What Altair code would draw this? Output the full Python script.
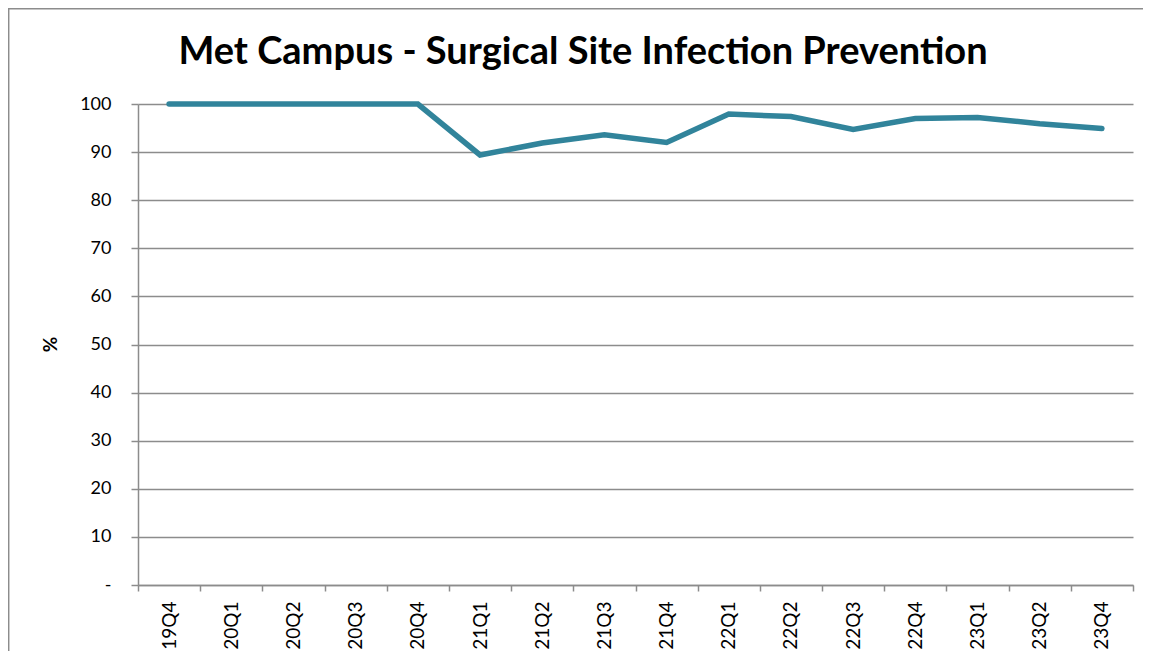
import altair as alt
import pandas as pd

quarters = ["19Q4", "20Q1", "20Q2", "20Q3", "20Q4", "21Q1", "21Q2", "21Q3",
            "21Q4", "22Q1", "22Q2", "22Q3", "22Q4", "23Q1", "23Q2", "23Q4"]
values = [100, 100, 100, 100, 100, 89.4, 91.9, 93.6,
          92.0, 97.9, 97.4, 94.7, 97.0, 97.2, 95.9, 94.9]
title_text = ["Met Campus - Surgical Site Infection Prevention"]

df = pd.DataFrame({"quarter": quarters, "value": values})
tdf = pd.DataFrame({"t": title_text})

FONT = "Lato"
GRAY = "#8c8c8c"

x_enc = alt.X("quarter:N", sort=quarters, title=None,
              scale=alt.Scale(paddingInner=0, paddingOuter=0),
              axis=alt.Axis(labelAngle=-90, labelAlign="right", labelBaseline="middle",
                            labelFontSize=19, labelFont=FONT, labelColor="#000000",
                            labelPadding=10, tickBand="extent", tickSize=6,
                            tickColor=GRAY, domainColor=GRAY, tickWidth=1.5,
                            domainWidth=1.5, grid=False))
y_enc = alt.Y("value:Q", title="%",
              scale=alt.Scale(domain=[0, 100], nice=False),
              axis=alt.Axis(values=list(range(0, 101, 10)),
                            labelExpr="datum.value == 0 ? '-' : datum.label",
                            labelFontSize=18, labelFont=FONT, labelColor="#000000",
                            labelPadding=20, tickSize=7, tickColor=GRAY,
                            tickWidth=1.5, domainColor=GRAY, domainWidth=1.5,
                            grid=True, gridColor=GRAY, gridWidth=1.5,
                            titleFont=FONT, titleFontSize=19, titleFontWeight="bold",
                            titleColor="#000000", titleAngle=-90, titleX=-88,
                            titleY=240, titleBaseline="middle", titleAlign="center"))

line = alt.Chart(df).mark_line(color="#31849B", strokeWidth=5.5, strokeCap="round",
                               strokeJoin="miter").encode(x=x_enc, y=y_enc)

top_rule = alt.Chart(tdf).mark_rule(color=GRAY, strokeWidth=1.5, clip=False).encode(
    x=alt.value(-130), x2=alt.value(1005), y=alt.value(-95.3))
left_rule = alt.Chart(tdf).mark_rule(color=GRAY, strokeWidth=1.5, clip=False).encode(
    x=alt.value(-129.3), y=alt.value(-96), y2=alt.value(560))

title = alt.Chart(tdf).mark_text(font=FONT, fontSize=38, fontWeight="bold",
                                 color="#000000", align="center", baseline="alphabetic",
                                 clip=False).encode(
    text="t:N", x=alt.value(445), y=alt.value(-40))

chart = alt.layer(top_rule, left_rule, line, title).properties(
    width=995, height=481,
    autosize=alt.AutoSizeParams(type="none"),
    padding={"left": 130, "top": 96, "right": 10, "bottom": 66},
).configure_view(stroke=None)

chart.save("out.html", embed_options={"renderer": "svg", "actions": False})
